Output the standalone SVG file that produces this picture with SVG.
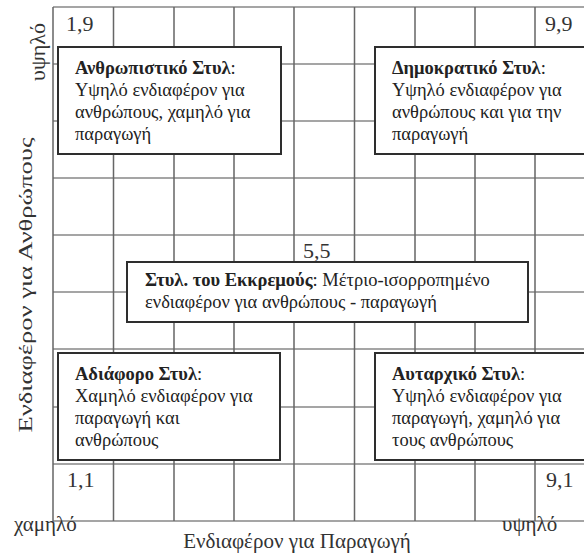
<svg xmlns="http://www.w3.org/2000/svg" width="584" height="554" viewBox="0 0 584 554">
<style>
.g{stroke:#666;stroke-width:1.5;fill:none}
.gh{stroke:#888;stroke-width:1.5;fill:none}
.box{fill:#fff;stroke:#2e2e2e;stroke-width:2}
text{font-family:"Liberation Serif","Times New Roman",serif;fill:#222}
.t{font-size:18.5px}
.b{font-weight:bold}
.n{font-size:22px;fill:#333}
.ax{font-size:21px;fill:#333}
</style>
<rect width="584" height="554" fill="#fff"/>
<g id="grid">
<path class="gh" d="M53 7H600M53 64H600M53 121H600M53 178H600M53 235H600M53 292H600M53 349H600M53 407H600M53 464H600M53 521H600"/>
<path class="g" d="M53 7V521M113.5 7V521M174 7V521M234 7V521M294 7V521M354.5 7V521M415 7V521M475 7V521M535 7V521"/>
</g>
<g id="coords">
<text class="n" x="66" y="31">1,9</text>
<text class="n" x="545" y="31">9,9</text>
<text class="n" x="303" y="258">5,5</text>
<text class="n" x="67" y="487">1,1</text>
<text class="n" x="546" y="487">9,1</text>
</g>
<g id="axes">
<text class="ax" transform="translate(45,52) rotate(-90)" text-anchor="middle" textLength="58" lengthAdjust="spacingAndGlyphs">υψηλό</text>
<text class="ax" transform="translate(32,285) rotate(-90)" text-anchor="middle" textLength="295" lengthAdjust="spacingAndGlyphs" style="font-size:19px">Ενδιαφέρον για Ανθρώπους</text>
<text class="ax" x="14" y="531">χαμηλό</text>
<text class="ax" x="502" y="531">υψηλό</text>
<text class="ax" x="297" y="548" text-anchor="middle">Ενδιαφέρον για Παραγωγή</text>
</g>
<g id="node-anthropistiko">
<rect class="box" x="58" y="47" width="223" height="107"/>
<text class="t" x="75" y="74"><tspan class="b">Ανθρωπιστικό Στυλ</tspan>:</text>
<text class="t" x="75" y="96">Υψηλό ενδιαφέρον για</text>
<text class="t" x="75" y="118">ανθρώπους, χαμηλό για</text>
<text class="t" x="75" y="140">παραγωγή</text>
</g>
<g id="node-dimokratiko">
<rect class="box" x="375" y="47" width="220" height="107"/>
<text class="t" x="392" y="74"><tspan class="b">Δημοκρατικό Στυλ</tspan>:</text>
<text class="t" x="392" y="96">Υψηλό ενδιαφέρον για</text>
<text class="t" x="392" y="118">ανθρώπους και για την</text>
<text class="t" x="392" y="140">παραγωγή</text>
</g>
<g id="node-ekkremous">
<rect class="box" x="127" y="262" width="401" height="60"/>
<text class="t" x="145" y="286"><tspan class="b">Στυλ. του Εκκρεμούς</tspan>: Μέτριο-ισορροπημένο</text>
<text class="t" x="145" y="308">ενδιαφέρον για ανθρώπους - παραγωγή</text>
</g>
<g id="node-adiaforo">
<rect class="box" x="58" y="353" width="222" height="107"/>
<text class="t" x="75" y="380"><tspan class="b">Αδιάφορο Στυλ</tspan>:</text>
<text class="t" x="75" y="402">Χαμηλό ενδιαφέρον για</text>
<text class="t" x="75" y="424">παραγωγή και</text>
<text class="t" x="75" y="446">ανθρώπους</text>
</g>
<g id="node-autarxiko">
<rect class="box" x="375" y="353" width="220" height="107"/>
<text class="t" x="392" y="380"><tspan class="b">Αυταρχικό Στυλ</tspan>:</text>
<text class="t" x="392" y="402">Υψηλό ενδιαφέρον για</text>
<text class="t" x="392" y="424">παραγωγή, χαμηλό για</text>
<text class="t" x="392" y="446">τους ανθρώπους</text>
</g>
</svg>
